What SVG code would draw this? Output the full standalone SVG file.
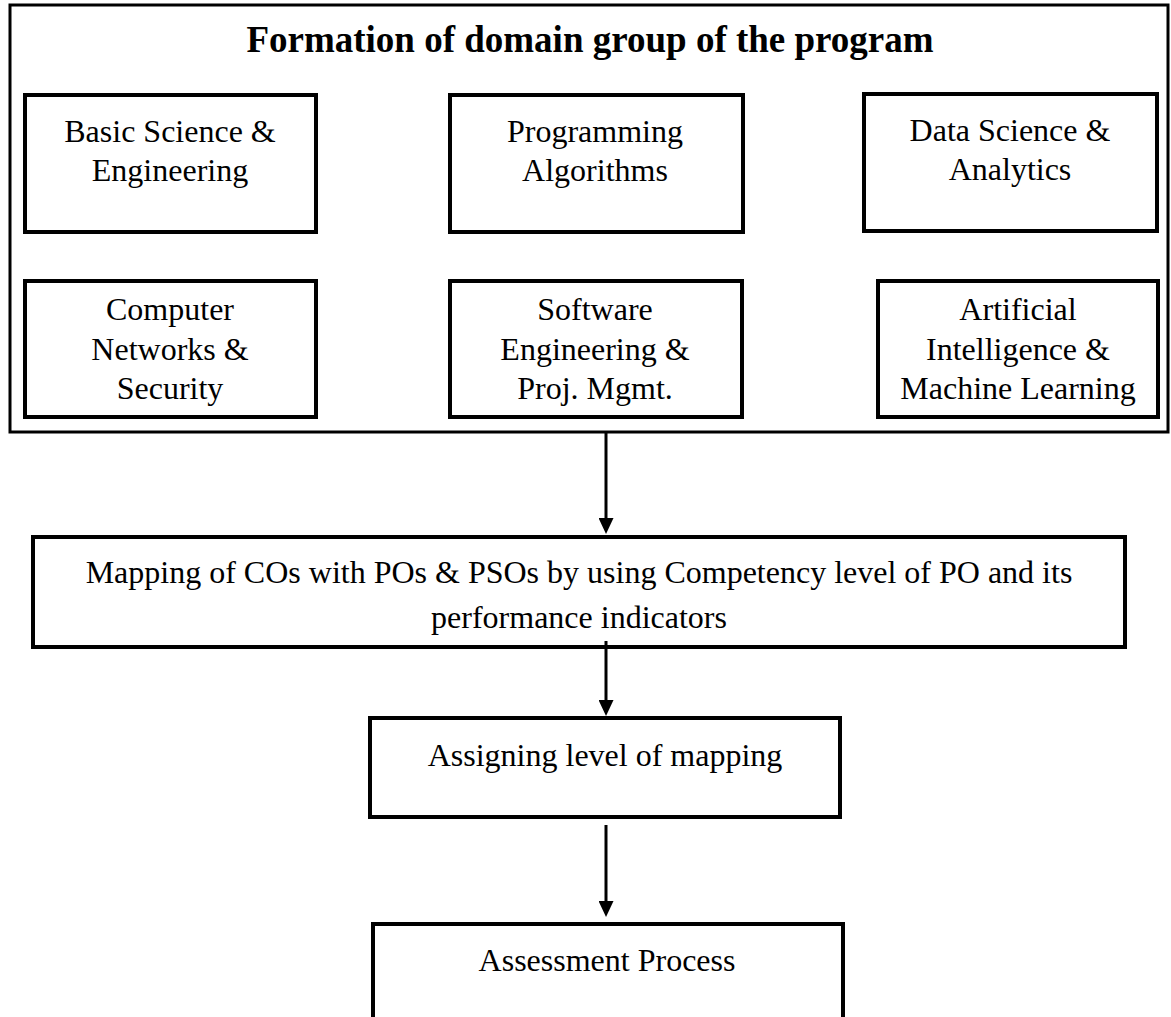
<svg xmlns="http://www.w3.org/2000/svg" width="1171" height="1017" viewBox="0 0 1171 1017">
<style>
.box{fill:#fff;stroke:#000;stroke-width:4}
.outer{fill:#fff;stroke:#000;stroke-width:3}
.t{font-family:"Liberation Serif","Times New Roman",serif;font-size:32px;fill:#000;text-anchor:middle}
.title{font-family:"Liberation Serif","Times New Roman",serif;font-size:37px;font-weight:bold;fill:#000;text-anchor:middle}
.conn{stroke:#000;stroke-width:3;fill:none}
</style>
<defs>
<marker id="arr" markerWidth="16" markerHeight="15" refX="0" refY="7.5" orient="auto" markerUnits="userSpaceOnUse" viewBox="0 0 16 15">
<path d="M0,0 L16,7.5 L0,15 Z" fill="#000"/>
</marker>
<clipPath id="mapclip"><rect x="33" y="537" width="1092" height="99"/></clipPath>
</defs>
<g id="domain-group">
<rect class="outer" x="10" y="5" width="1158" height="427"/>
<text class="title" x="590" y="52">Formation of domain group of the program</text>
</g>
<g id="basic-science">
<rect class="box" x="25" y="95" width="291" height="137"/>
<text class="t" x="170" y="142">Basic Science &amp;</text>
<text class="t" x="170" y="181">Engineering</text>
</g>
<g id="programming">
<rect class="box" x="450" y="95" width="293" height="137"/>
<text class="t" x="595" y="142">Programming</text>
<text class="t" x="595" y="181">Algorithms</text>
</g>
<g id="data-science">
<rect class="box" x="864" y="94" width="293" height="137"/>
<text class="t" x="1010" y="141">Data Science &amp;</text>
<text class="t" x="1010" y="180">Analytics</text>
</g>
<g id="networks">
<rect class="box" x="25" y="281" width="291" height="136"/>
<text class="t" x="170" y="320">Computer</text>
<text class="t" x="170" y="360">Networks &amp;</text>
<text class="t" x="170" y="399">Security</text>
</g>
<g id="software">
<rect class="box" x="450" y="281" width="292" height="136"/>
<text class="t" x="595" y="320">Software</text>
<text class="t" x="595" y="360">Engineering &amp;</text>
<text class="t" x="595" y="399">Proj. Mgmt.</text>
</g>
<g id="ai-ml">
<rect class="box" x="878" y="281" width="280" height="136"/>
<text class="t" x="1018" y="320">Artificial</text>
<text class="t" x="1018" y="360">Intelligence &amp;</text>
<text class="t" x="1018" y="399">Machine Learning</text>
</g>
<g id="mapping">
<rect class="box" x="33" y="537" width="1092" height="110"/>
<text class="t" x="579" y="583">Mapping of COs with POs &amp; PSOs by using Competency level of PO and its</text>
<text class="t" x="579" y="628" clip-path="url(#mapclip)">performance indicators</text>
</g>
<g id="assigning">
<rect class="box" x="370" y="718" width="470" height="99"/>
<text class="t" x="605" y="766">Assigning level of mapping</text>
</g>
<g id="assessment">
<rect class="box" x="373" y="924" width="470" height="110"/>
<text class="t" x="607" y="971">Assessment Process</text>
</g>
<g id="connectors">
<line class="conn" x1="606" y1="433" x2="606" y2="518" marker-end="url(#arr)"/>
<line class="conn" x1="606" y1="641" x2="606" y2="700" marker-end="url(#arr)"/>
<line class="conn" x1="606" y1="825" x2="606" y2="901" marker-end="url(#arr)"/>
</g>
</svg>
